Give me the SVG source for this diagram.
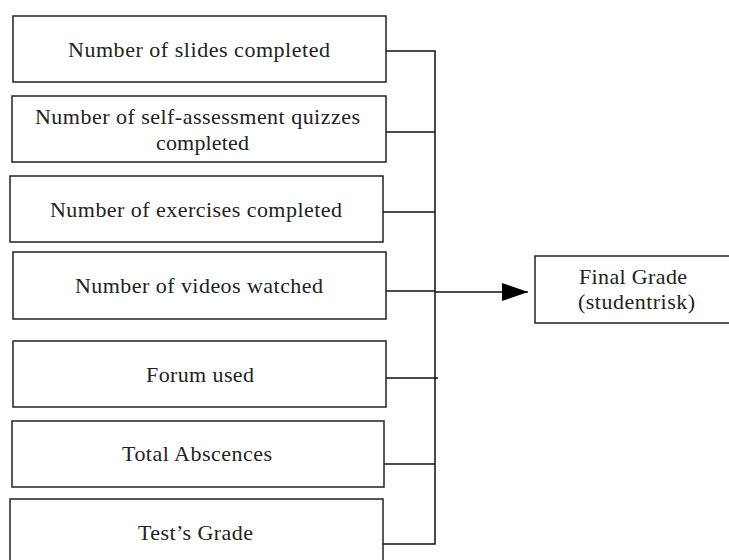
<svg xmlns="http://www.w3.org/2000/svg" width="729" height="560" viewBox="0 0 729 560">
<style>
.box{fill:#fff;stroke:#222;stroke-width:1.5}
.t{font-family:"Liberation Serif","Times New Roman",serif;font-size:22px;fill:#222}
.c{fill:none;stroke:#111;stroke-width:1.5}
</style>
<defs>
<marker id="arr" markerWidth="26" markerHeight="18" refX="26" refY="9" orient="auto" markerUnits="userSpaceOnUse">
<path d="M0,0 L26,9 L0,18 Z" fill="#000"/>
</marker>
</defs>
<rect width="729" height="560" fill="#fff"/>
<g id="connectors">
<path class="c" d="M386,51 H435 V544 H383"/>
<path class="c" d="M386,132 H435"/>
<path class="c" d="M383,212 H435"/>
<path class="c" d="M386,291 H435"/>
<path class="c" d="M386,378 H438"/>
<path class="c" d="M383,464 H435"/>
<path class="c" d="M435,292 L528,292" marker-end="url(#arr)"/>
</g>
<g id="n1"><rect class="box" x="13" y="16" width="373" height="66"/>
<text class="t" x="68" y="57" textLength="262" lengthAdjust="spacing">Number of slides completed</text></g>
<g id="n2"><rect class="box" x="12" y="96" width="374" height="66"/>
<text class="t" x="35" y="124" textLength="325" lengthAdjust="spacing">Number of self-assessment quizzes</text>
<text class="t" x="156" y="150" textLength="93" lengthAdjust="spacing">completed</text></g>
<g id="n3"><rect class="box" x="10" y="176" width="373" height="66"/>
<text class="t" x="50" y="217" textLength="292" lengthAdjust="spacing">Number of exercises completed</text></g>
<g id="n4"><rect class="box" x="13" y="252" width="373" height="67"/>
<text class="t" x="75" y="293" textLength="248" lengthAdjust="spacing">Number of videos watched</text></g>
<g id="n5"><rect class="box" x="13" y="341" width="373" height="66"/>
<text class="t" x="146" y="382" textLength="108" lengthAdjust="spacing">Forum used</text></g>
<g id="n6"><rect class="box" x="12" y="421" width="372" height="66"/>
<text class="t" x="122" y="461" textLength="150" lengthAdjust="spacing">Total Abscences</text></g>
<g id="n7"><rect class="box" x="10" y="499" width="373" height="70"/>
<text class="t" x="138" y="540" textLength="115" lengthAdjust="spacing">Test’s Grade</text></g>
<g id="final"><rect class="box" x="535" y="256" width="200" height="67"/>
<text class="t" x="579" y="284" textLength="108" lengthAdjust="spacing">Final Grade</text>
<text class="t" x="578" y="309" textLength="117" lengthAdjust="spacing">(studentrisk)</text></g>
</svg>
